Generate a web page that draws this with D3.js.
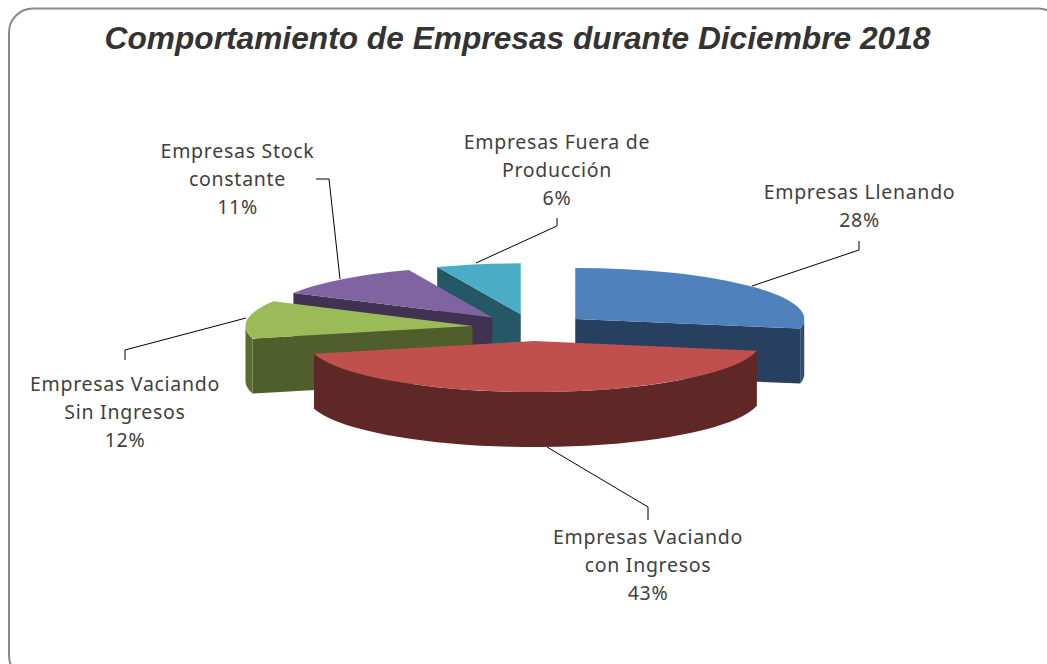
<!DOCTYPE html>
<html><head><meta charset="utf-8">
<script src="https://cdnjs.cloudflare.com/ajax/libs/d3/7.8.5/d3.min.js"></script>
<style>html,body{margin:0;padding:0;background:#fff}svg{display:block}</style>
</head><body><svg id="c" width="1047" height="664"></svg>
<script>
const titleText = "Comportamiento de Empresas durante Diciembre 2018";
const categories = ["Empresas Llenando","Empresas Vaciando con Ingresos","Empresas Vaciando Sin Ingresos","Empresas Stock constante","Empresas Fuera de Producción"];
const values = [28,43,12,11,6];
const labelLines = [["Empresas Llenando","28%"],["Empresas Vaciando","con Ingresos","43%"],["Empresas Vaciando","Sin Ingresos","12%"],["Empresas Stock","constante","11%"],["Empresas Fuera de","Producción","6%"]];
const topColors = ["#4f81bd","#c0504d","#9bbb59","#8064a2","#4bacc6"];
const wallColors = ["#27405f","#5f2726","#505e2b","#423252","#255866"];
const edgeColors = ["#2f4b6e","#5f2726","#5a6b30","#423252","#255866"];
const labelPos = [[859.5,192],[648,537],[125,384],[237.5,151],[557,142]];
const leaderPts = [[[752,286],[859,250],[859,241]],[[547,447],[648,507],[648,520]],[[246,318],[125,350],[125,360]],[[340,279],[329,179],[316,179]],[[476,263],[557,226],[557,218]]];
// small perspective corrections: the slice nearest the right side reads slightly wider
const sliceRx = [229,227,227,227,227];
const sliceNudgeX = [-3,0,0,0,0];

const svg = d3.select("#c");
const cx=532, cy=327.6, ry=51, depth=55, explode=60, k0=ry/227;
svg.append("rect").attr("x",9).attr("y",8.5).attr("width",1053).attr("height",671).attr("rx",24).attr("fill","none").attr("stroke","#8a8a8a").attr("stroke-width",2);
svg.append("text").attr("x",517.5).attr("y",48.5).attr("text-anchor","middle").attr("font-family","'Liberation Sans',Arial,sans-serif").attr("font-weight","bold").attr("font-style","italic").attr("font-size",31.7).attr("fill","#333").text(titleText);

const pie = d3.pie().sort(null).value(d=>d);
const arcs = pie(values);
const line = d3.line();
const order = [4,3,0,2,1];
order.forEach(i=>{
  const d = arcs[i], mid=(d.startAngle+d.endAngle)/2, rx=sliceRx[i], k=ry/rx;
  const arcGen = d3.arc().innerRadius(0).outerRadius(rx);
  const P = a=>[Math.sin(a)*rx, -Math.cos(a)*ry];
  const g = svg.append("g").attr("transform",`translate(${cx+sliceNudgeX[i]+Math.sin(mid)*explode},${cy-Math.cos(mid)*explode*k0})`);
  const quad = a=>{const p=P(a);return line([[0,0],p,[p[0],p[1]+depth],[0,depth]])+"Z";};
  if(Math.sin(d.startAngle)<-1e-6) g.append("path").attr("d",quad(d.startAngle)).attr("fill",wallColors[i]);
  if(Math.sin(d.endAngle)>1e-6) g.append("path").attr("d",quad(d.endAngle)).attr("fill",wallColors[i]);
  const a0=Math.max(d.startAngle,Math.PI/2), a1=Math.min(d.endAngle,Math.PI*1.5);
  if(a1>a0){
    const ts=d3.range(0,41).map(t=>a0+(a1-a0)*t/40);
    const topE=ts.map(a=>P(a)), botE=ts.map(a=>{const p=P(a);return [p[0],p[1]+depth];}).reverse();
    g.append("path").attr("d",line(topE.concat(botE))+"Z").attr("fill",edgeColors[i]);
  }
  g.append("path").attr("transform",`scale(1,${k})`).attr("d",arcGen(d)).attr("fill",topColors[i]);
});
leaderPts.forEach(p=>svg.append("path").attr("d",line(p)).attr("fill","none").attr("stroke","#000").attr("stroke-width",1));
labelLines.forEach((ls,i)=>{
  const t=svg.append("text").attr("text-anchor","middle").attr("font-family","'Noto Sans',sans-serif").attr("font-size",19.5).attr("letter-spacing",0.72).attr("fill","#404040");
  ls.forEach((s,j)=>t.append("tspan").attr("x",labelPos[i][0]).attr("y",labelPos[i][1]+7+j*28).text(s));
});
</script></body></html>
